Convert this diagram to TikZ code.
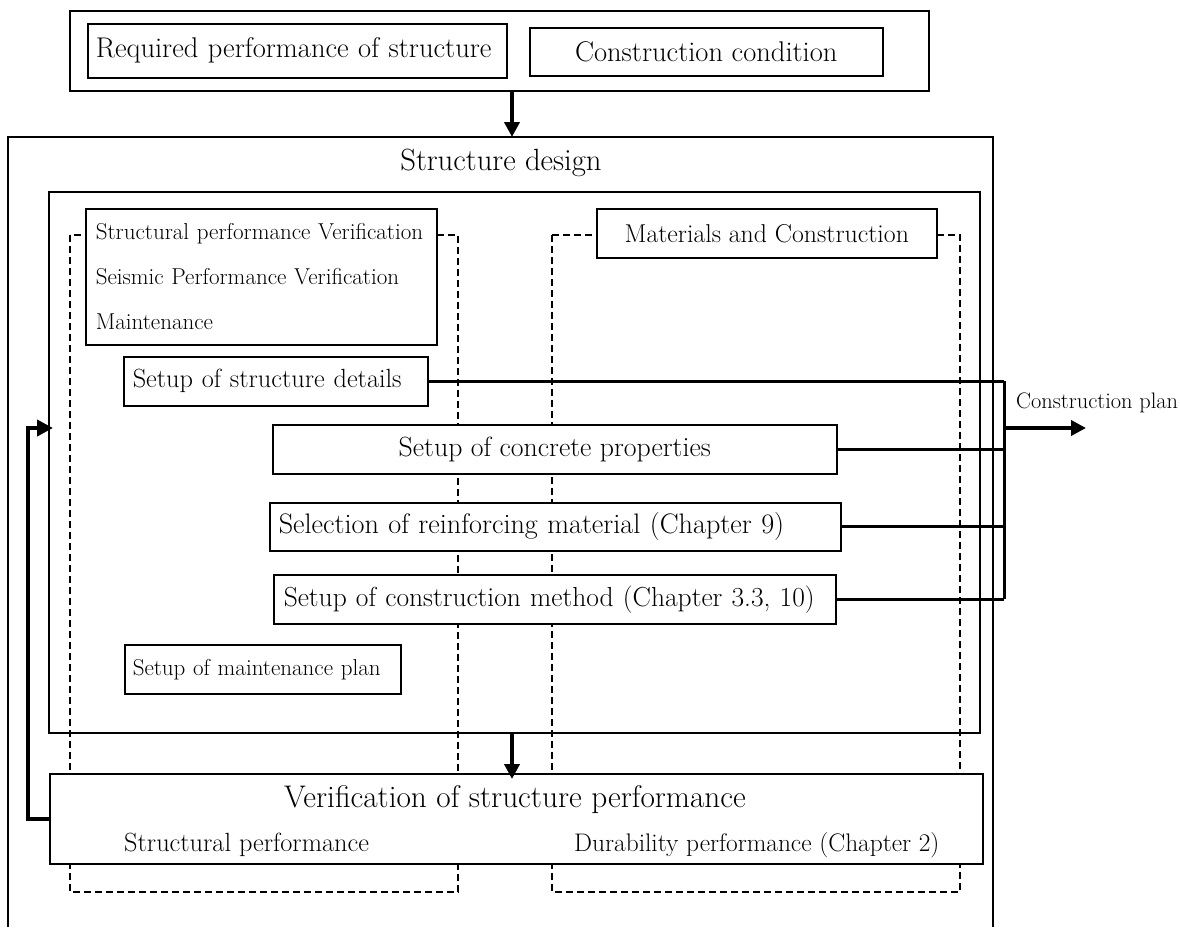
\documentclass[tikz,border=0pt]{standalone}
\usepackage{fontspec}
\usetikzlibrary{arrows.meta}
\begin{document}
\begin{tikzpicture}[x=1pt,y=-1pt,
  box/.style={draw, line width=1.5pt, fill=white, inner sep=0pt, anchor=north west},
  dashbox/.style={line width=2pt, dash pattern=on 7pt off 4pt},
  solidline/.style={line width=1.5pt},
  conn/.style={line width=3pt},
  bigarrow/.style={line width=4pt, -{Triangle[length=15pt,width=15pt]}},
  fbarrow/.style={line width=4pt, line join=miter, -{Triangle[length=16pt,width=16pt]}},
  fA/.style={font=\fontsize{28.5}{32}\selectfont},
  fB/.style={font=\fontsize{23}{45}\selectfont},
  fC/.style={font=\fontsize{26.3}{30}\selectfont},
  fD/.style={font=\fontsize{30.7}{34}\selectfont},
  txt/.style={inner sep=0pt}
]
\useasboundingbox (0,0) rectangle (1180,927);
\fill[white] (0,0) rectangle (1180,927);

% dashed groups
\draw[dashbox] (70,235) rectangle (458,892);
\draw[dashbox] (552,235) rectangle (960,892);

% top box
\node[box, fill=none, minimum width=859pt, minimum height=80pt] (topbox) at (69,10) {};
\node[box, fA, text width=403pt, inner xsep=8pt, minimum height=54pt, align=left] (req) at (87,23) {Required performance of structure};
\node[box, fA, minimum width=353pt, minimum height=48pt] (cond) at (529,27) {Construction condition};

% structure design outer frame
\coordinate (sdtop) at (512,137);
\draw[solidline] (8,927) -- (8,137) -- (993,137) -- (993,927);
\node[txt, fD] (sdtitle) at (501,163) {Structure design};

% inner box
\node[box, fill=none, minimum width=931pt, minimum height=541pt] (inner) at (48,191) {};

% left column boxes
\node[box, fB, text width=331pt, inner xsep=10pt, minimum height=136pt, align=left] (spv) at (85,208)
  {Structural performance Verification\\Seismic Performance Verification\\Maintenance};
\node[box, fC, text width=286pt, inner xsep=9pt, minimum height=49pt, align=left] (det) at (123,356) {Setup of structure details};
\node[box, font=\fontsize{23}{27}\selectfont, text width=260pt, inner xsep=8pt, minimum height=49pt, align=left] (maint) at (124,644) {Setup of maintenance plan};

% right column boxes
\node[box, font=\fontsize{25.8}{30}\selectfont, minimum width=340pt, minimum height=49pt] (mat) at (596,208) {Materials and Construction};
\node[box, font=\fontsize{27.8}{32}\selectfont, minimum width=564pt, minimum height=49pt] (conc) at (272,424) {Setup of concrete properties};
\node[box, font=\fontsize{28.2}{32}\selectfont, text width=553pt, inner xsep=9pt, minimum height=48pt, align=left] (reinf) at (269,502) {Selection of reinforcing material (Chapter 9)};
\node[box, font=\fontsize{27.5}{32}\selectfont, text width=542pt, inner xsep=10pt, minimum height=49pt, align=left] (meth) at (273,574) {Setup of construction method (Chapter 3.3, 10)};

% verification box
\node[box, minimum width=933pt, minimum height=90pt] (verif) at (49,773) {};
\node[txt, font=\fontsize{31.3}{35}\selectfont] (vtitle) at (515,800) {Verification of structure performance};
\node[txt, fC, anchor=west] (vstruct) at (124,845) {Structural performance};
\node[txt, font=\fontsize{25.4}{30}\selectfont, anchor=west] (vdur) at (574,845) {Durability performance (Chapter 2)};

% arrows
\draw[bigarrow] (topbox.south -| sdtop) -- (sdtop);
\coordinate (vin) at (512,779);
\draw[bigarrow] (inner.south -| vin) -- (vin);

% construction plan bus
\coordinate (bt) at (1004,379);
\coordinate (busout) at (1004,428);
\coordinate (cp) at (1086,428);
\draw[conn] (det.east) -- (det.east -| bt);
\draw[conn] (conc.east) -- (conc.east -| bt);
\draw[conn] (reinf.east) -- (reinf.east -| bt);
\draw[conn] (meth.east) -- (meth.east -| bt);
\draw[conn] (det.east -| bt) -- (meth.east -| bt);
\draw[bigarrow] (busout) -- (cp);
\node[txt, font=\fontsize{22.4}{26}\selectfont, anchor=west] (cplan) at (1016,403) {Construction plan};

% feedback
\coordinate (fbin) at (53,428);
\draw[fbarrow] (verif.west) -- ++(-21,0) |- (fbin);
\end{tikzpicture}
\end{document}
